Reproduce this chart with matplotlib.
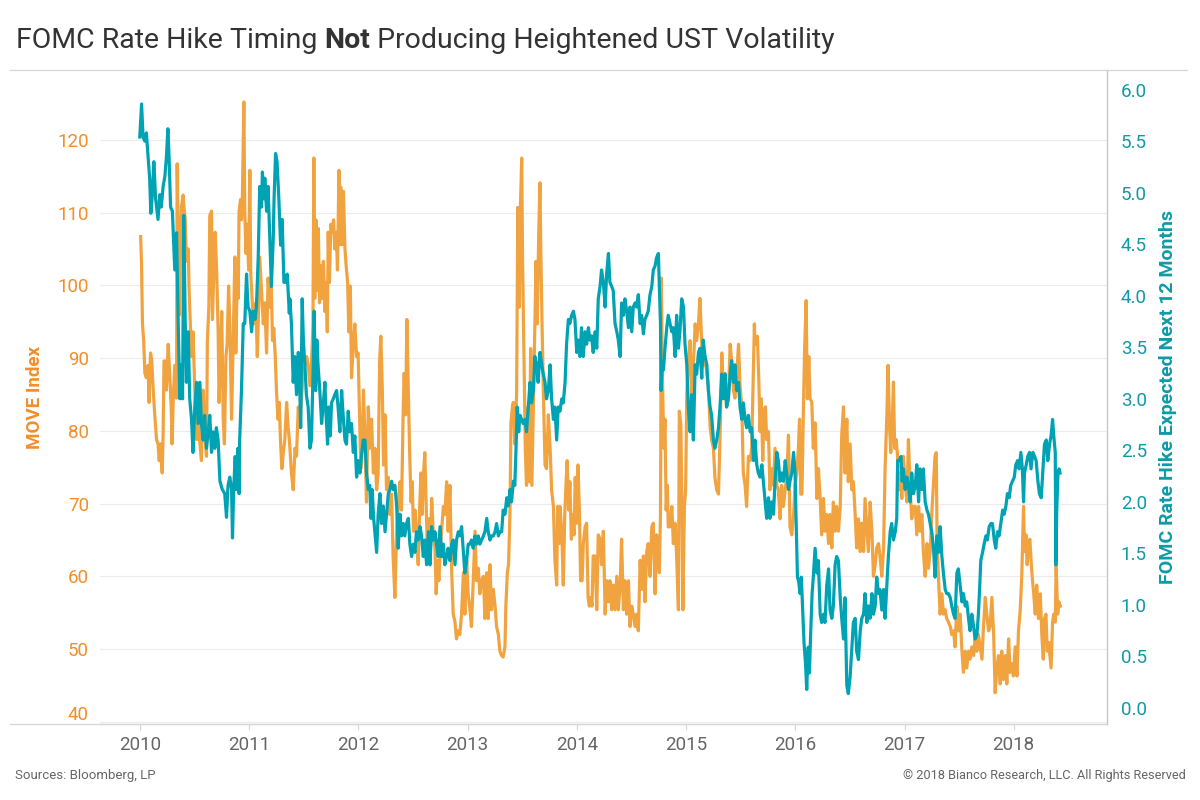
import numpy as np
import pandas as pd
import matplotlib
matplotlib.use('Agg')
import matplotlib.pyplot as plt
import matplotlib.dates as mdates
from matplotlib import transforms
from matplotlib.lines import Line2D

# (days after 2010-01-01, value)
move_data = [
    (3, 106.7), (6, 102.7), (9, 94.7), (13, 92.4), (17, 87.9), (22, 87.3), (28, 89), (31, 83.9), (36, 90.7),
    (40, 89.6), (45, 85.6), (50, 82.2), (56, 78.8), (61, 78.2), (65, 75.9), (69, 78.2), (75, 74.2), (78, 79.4),
    (81, 89.6), (86, 89.6), (89, 85.6), (95, 91.9), (100, 87.9), (105, 83.3), (108, 78.2), (112, 84.5), (117, 89),
    (123, 84.5), (125, 116.7), (128, 107.3), (132, 95.9), (136, 105), (139, 110.7), (145, 112.4), (148, 110.7),
    (152, 109), (156, 103.3), (162, 105), (165, 99.3), (170, 93.6), (174, 90.2), (178, 93.6), (184, 85.6),
    (190, 78.8), (195, 81.1), (201, 78.2), (206, 75.9), (212, 85.6), (217, 79.9), (223, 76.5), (226, 92.4),
    (231, 97), (234, 109.6), (240, 110.2), (243, 95.3), (248, 102.7), (252, 107.3), (257, 102.1), (262, 93.6),
    (265, 83.9), (270, 90.2), (274, 96.4), (279, 81.6), (283, 78.2), (288, 90.2), (292, 91.9), (297, 99.9),
    (301, 94.7), (307, 81.6), (312, 91.9), (318, 103.9), (321, 90.7), (326, 101.6), (329, 98.2), (332, 110.2),
    (337, 111.8), (340, 109), (343, 111.8), (348, 125.2), (351, 110.2), (355, 104.4), (359, 108.4), (364, 102.1),
    (368, 115.8), (371, 101.6), (377, 97), (381, 94.7), (388, 97.6), (393, 90.2), (397, 96.4), (401, 103.9),
    (407, 99.3), (413, 94.7), (418, 97.6), (424, 90.7), (429, 101), (435, 97), (439, 101), (444, 92.4),
    (448, 94.1), (453, 90.2), (457, 85.6), (462, 81.6), (466, 83.9), (471, 78.2), (475, 74.8), (480, 77),
    (485, 78.8), (491, 83.9), (496, 80.5), (500, 78.8),
    (502, 77.6), (507, 74.2), (513, 71.9), (519, 77.6), (524, 76.5), (530, 83.3), (535, 80.5), (541, 84.5),
    (546, 87.9), (552, 89), (558, 90.2), (563, 89), (569, 86.2), (574, 89), (579, 94.7), (582, 117.5),
    (585, 98.2), (589, 109), (592, 99.3), (597, 107.8), (601, 97.6), (605, 102.7), (610, 98.2), (614, 103.3),
    (619, 96.4), (623, 100.4), (627, 93.6), (630, 107.3), (634, 100.4), (639, 108.4), (643, 107.3), (648, 109),
    (652, 105), (657, 107.3), (661, 102.1), (666, 115.8), (669, 105.6), (672, 113.5), (677, 105.6), (681, 112.9),
    (686, 105), (690, 102.7), (695, 100.4), (699, 93.6), (704, 99.9), (708, 87.3), (714, 91.9), (719, 94.7),
    (725, 90.2), (730, 90.7), (735, 81.6), (739, 74.8), (744, 78.8), (748, 85.6), (753, 78.8), (758, 70.2),
    (764, 83.3), (769, 77.6), (775, 81.6), (781, 74.2), (786, 77.6), (792, 71.9), (797, 74.2), (802, 89.6),
    (806, 93), (811, 85.6), (815, 75.3), (820, 82.2), (825, 71.9), (831, 73.6), (836, 68.5), (842, 71.3),
    (847, 62.8), (853, 57.1), (859, 66.2), (864, 69.6), (870, 73), (875, 69.1), (881, 83.3), (884, 87.9),
    (889, 82.2), (893, 95.3), (898, 85.6), (902, 77.6), (907, 70.2), (911, 73), (915, 66.2), (920, 69.1),
    (925, 66.2), (931, 61.6), (936, 69.6), (940, 74.2), (944, 68.5), (949, 74.2), (953, 77), (958, 69.1),
    (962, 63.4), (967, 67.9), (971, 61.6), (976, 70.7), (981, 66.2), (987, 63.9), (991, 57.6), (996, 62.2),
    (1000, 59.4), (1005, 63.9), (1009, 66.2), (1015, 69.6), (1020, 68.5),
    (1026, 73), (1031, 66.2), (1037, 72.5), (1043, 60.5), (1048, 54.8), (1054, 53.7), (1059, 51.4), (1065, 52.5),
    (1070, 52), (1076, 54.8), (1082, 60.5), (1087, 54.8), (1093, 62.2), (1098, 57.6), (1104, 55.4), (1109, 53.1),
    (1115, 59.4), (1121, 66.2), (1126, 59.4), (1132, 61.1), (1137, 57.6), (1143, 59.4), (1149, 60), (1154, 54.2),
    (1160, 60.5), (1165, 54.2), (1171, 61.6), (1176, 55.4), (1182, 58.2), (1188, 55.9), (1193, 53.1), (1199, 52),
    (1204, 49.7), (1210, 49.1), (1215, 48.9), (1221, 50.3), (1224, 55.9), (1229, 60.5), (1233, 61.6), (1238, 69.1),
    (1241, 81.1), (1246, 83.3), (1249, 83.9), (1254, 78.2), (1260, 85), (1264, 110.7), (1269, 97), (1273, 111.2),
    (1277, 117.5), (1280, 103.3), (1285, 89), (1289, 77.6), (1293, 72.5), (1298, 83.3), (1302, 73), (1307, 91.3),
    (1311, 72.5), (1316, 83.3), (1320, 91.9), (1325, 103.3), (1329, 94.7), (1334, 107.3), (1338, 114.1),
    (1341, 104.4), (1345, 94.7), (1349, 86.2), (1355, 75.3), (1360, 74.8), (1366, 82.2), (1372, 77.6),
    (1377, 71.9), (1383, 69.6), (1388, 62.2), (1394, 58.8), (1397, 69.6), (1402, 64.5), (1405, 69.6), (1411, 66.2),
    (1416, 58.8), (1421, 68.5), (1425, 72.5), (1429, 75.9), (1434, 69.1), (1438, 73), (1443, 65.1), (1447, 68.5),
    (1452, 65.7), (1456, 73.6), (1461, 67.3), (1465, 75.3), (1470, 69.1), (1474, 59.4), (1479, 59.4), (1483, 64.5),
    (1489, 66.8), (1494, 67.3), (1499, 57.1), (1503, 55.9), (1508, 57.1), (1512, 55.9), (1516, 62.8), (1522, 62.8),
    (1528, 55.4), (1533, 65.7), (1539, 65.1),
    (1544, 61.6), (1550, 66.2), (1556, 54.8), (1561, 59.4), (1567, 56.5), (1572, 59.4), (1578, 55.4), (1583, 58.8),
    (1589, 55.4), (1595, 60), (1600, 55.4), (1606, 58.8), (1611, 65.1), (1617, 55.4), (1622, 59.4), (1628, 54.8),
    (1634, 59.4), (1639, 53.1), (1645, 55.9), (1650, 54.8), (1656, 53.1), (1661, 54.8), (1667, 52.5), (1673, 62.2),
    (1678, 58.2), (1684, 62.8), (1689, 56.5), (1695, 63.4), (1700, 64.5), (1706, 60), (1712, 66.8), (1717, 67.3),
    (1723, 57.6), (1728, 65.7), (1734, 64.5), (1737, 60.5), (1741, 68.5), (1744, 101), (1747, 89), (1752, 77.6),
    (1756, 81.6), (1760, 69.1), (1764, 72.5), (1767, 66.8), (1773, 66.8), (1779, 69.6), (1784, 64.5), (1790, 67.3),
    (1795, 62.8), (1801, 55.4), (1804, 82.7), (1809, 80.9), (1812, 71.9), (1816, 55.4), (1821, 69.6), (1825, 71.9),
    (1829, 85), (1834, 89.6), (1840, 92.4), (1845, 84.5), (1851, 89), (1857, 94.7), (1862, 92.4), (1868, 94.7),
    (1873, 98.2), (1879, 91.9), (1884, 89), (1890, 90.2), (1896, 87.9), (1901, 86.2), (1907, 80.5), (1912, 78.8),
    (1918, 77.6), (1923, 73.6), (1929, 71.9), (1935, 71.3), (1940, 78.8), (1946, 90.7), (1951, 85.6), (1957, 87.9),
    (1962, 83.3), (1968, 84.5), (1974, 91.9), (1979, 89.6), (1985, 85.6), (1990, 84.5), (1996, 87.9), (2002, 91.9),
    (2007, 86.2), (2013, 83.3), (2018, 74.2), (2024, 72.5), (2029, 69.6), (2035, 76.5), (2041, 75.9), (2046, 77.6),
    (2052, 89), (2055, 94.7), (2057, 91.9),
    (2065, 93), (2070, 86.7), (2074, 79.9), (2078, 84.4), (2083, 75.9), (2087, 82.7), (2092, 83.3), (2096, 78.8),
    (2102, 79.9), (2107, 71.9), (2113, 74.8), (2119, 72.5), (2124, 77.6), (2130, 72.5), (2135, 71.9), (2141, 67.9),
    (2146, 72.5), (2152, 69.6), (2158, 71.9), (2163, 73.6), (2169, 79.4), (2174, 66.8), (2180, 65.7), (2186, 68.5),
    (2191, 72.5), (2197, 74.2), (2202, 77.6), (2206, 81.6), (2210, 71.3), (2214, 71.3), (2219, 83.3), (2223, 91.3),
    (2228, 97.9), (2232, 84.4), (2237, 90.2), (2241, 84.5), (2247, 83.9), (2252, 77.6), (2258, 81.1), (2264, 70.7),
    (2269, 74.8), (2275, 70.7), (2280, 65.7), (2286, 70.7), (2291, 66.2), (2297, 68.5), (2303, 64.5), (2308, 68.5),
    (2314, 63.9), (2319, 70.2), (2325, 66.2), (2330, 69.6), (2336, 66.2), (2342, 69.6), (2347, 79.4), (2353, 83.3),
    (2358, 74.2), (2364, 81.6), (2369, 73), (2375, 78.2), (2381, 71.9), (2386, 73), (2392, 68.5), (2397, 63.9),
    (2403, 67.9), (2409, 63.4), (2414, 67.3), (2420, 63.4), (2425, 70.7), (2431, 66.8), (2436, 63.4), (2442, 70.2),
    (2448, 66.2), (2453, 60), (2459, 61.6), (2464, 63.9), (2470, 64.5), (2475, 62.8), (2481, 60), (2487, 63.9),
    (2492, 74.8), (2498, 82.2), (2502, 89), (2507, 80.5), (2511, 77), (2516, 81.1), (2520, 86.7), (2524, 77.6),
    (2529, 78.8), (2533, 77), (2538, 71.9), (2542, 74.2), (2548, 70.7), (2553, 76.5), (2559, 73), (2565, 70.2),
    (2570, 78.8), (2576, 71.9),
    (2581, 67.9), (2587, 69.6), (2593, 69.6), (2598, 65.7), (2604, 69.6), (2609, 66.2), (2615, 68.5), (2620, 63.4),
    (2626, 60), (2632, 64.5), (2637, 61.1), (2643, 63.4), (2648, 68.5), (2654, 73), (2659, 76.5), (2663, 77),
    (2666, 64.5), (2671, 59.4), (2676, 54.8), (2682, 57.6), (2687, 54.8), (2693, 55.4), (2698, 54.2), (2704, 53.7),
    (2710, 53.1), (2715, 52), (2721, 52.5), (2726, 50.3), (2732, 55.9), (2737, 52.5), (2743, 54.8), (2749, 49.7),
    (2754, 46.8), (2760, 49.7), (2765, 47.4), (2771, 49.7), (2776, 48.6), (2782, 50.3), (2788, 49.1), (2793, 51.4),
    (2799, 49.7), (2804, 52), (2810, 50.3), (2816, 48.6), (2821, 53.1), (2827, 57.1), (2832, 54.8), (2838, 52.5),
    (2843, 53.1), (2849, 57.1), (2855, 52), (2860, 44), (2866, 47.4), (2871, 49.1), (2877, 45.2), (2882, 49.7),
    (2888, 45.8), (2894, 49.1), (2899, 45.2), (2905, 51.4), (2910, 46.8), (2916, 48), (2921, 46.3), (2927, 50.3),
    (2933, 46.3), (2938, 52.5), (2944, 55.4), (2949, 60), (2955, 69.6), (2958, 63.4), (2963, 65.7), (2967, 61.6),
    (2972, 64.5), (2976, 65.1), (2981, 61.6), (2985, 59.4), (2989, 57.6), (2994, 54.8), (2999, 58.8), (3005, 54.2),
    (3011, 57.6), (3016, 52), (3021, 48.6), (3025, 54.2), (3030, 54.8), (3034, 49.7), (3039, 50.9), (3043, 49.1),
    (3047, 47.4), (3052, 53.7), (3056, 54.8), (3061, 53.7), (3064, 61.6), (3069, 54.8), (3073, 56.5), (3078, 55.9),
]

fomc_data = [
    (0, 5.54), (6, 5.86), (11, 5.54), (17, 5.5), (22, 5.58), (28, 5.34), (33, 5.14), (37, 4.8), (42, 4.98),
    (47, 5.3), (53, 4.94), (61, 4.74), (67, 4.98), (72, 4.86), (78, 5.06), (84, 5.16), (89, 5.34), (94, 5.62),
    (98, 5.34), (103, 4.86), (109, 4.82), (114, 4.45), (117, 4.25), (123, 4.61), (128, 3.81), (134, 3.0),
    (139, 3.33), (143, 3.0), (147, 4.78), (152, 3.73), (156, 3.16), (162, 3.65), (167, 3.0), (173, 2.8),
    (178, 2.48), (184, 2.92), (190, 3.16), (195, 2.76), (201, 3.16), (206, 2.76), (212, 2.6), (217, 2.84),
    (223, 2.52), (229, 2.68), (234, 2.84), (240, 2.48), (245, 2.68), (251, 2.52), (256, 2.72), (262, 2.6),
    (268, 2.2), (276, 2.12), (284, 2.08), (290, 1.85), (295, 2.16), (301, 2.24), (307, 2.12), (310, 1.65),
    (314, 2.12), (319, 2.44), (323, 2.12), (328, 2.52), (332, 2.08), (334, 2.6), (340, 3.08), (346, 3.73),
    (351, 3.73), (357, 4.21), (362, 3.89), (368, 3.85), (374, 3.65), (379, 3.85), (385, 3.77), (390, 3.89),
    (396, 4.37), (401, 5.06), (407, 4.86), (410, 5.2), (415, 4.94), (418, 5.14), (424, 4.82), (429, 5.06),
    (435, 4.53), (440, 4.09), (446, 4.53), (449, 4.94), (454, 5.38), (459, 5.3), (465, 4.94), (471, 4.49),
    (476, 4.74), (482, 4.13), (487, 4.13), (493, 4.21), (500, 3.83),
    (502, 3.97), (507, 3.73), (513, 3.16), (518, 3.41), (524, 3.04), (530, 3.45), (535, 3.08), (538, 2.72),
    (543, 3.97), (547, 3.57), (552, 3.33), (557, 3.04), (563, 2.92), (569, 2.52), (574, 2.6), (580, 3.33),
    (583, 3.85), (588, 3.08), (592, 3.57), (596, 3.33), (602, 3.08), (608, 2.76), (613, 2.92), (619, 3.16),
    (623, 2.84), (628, 2.56), (632, 2.92), (637, 2.64), (641, 2.96), (647, 3.0), (652, 3.04), (658, 3.08),
    (663, 2.92), (669, 2.68), (675, 3.08), (680, 2.84), (686, 2.6), (691, 2.56), (697, 2.88), (702, 2.68),
    (708, 2.76), (714, 2.48), (719, 2.64), (725, 2.24), (730, 2.4), (736, 2.28), (741, 2.44), (747, 2.6),
    (753, 2.6), (758, 2.28), (764, 2.12), (769, 2.16), (773, 1.84), (777, 2.12), (782, 1.84), (786, 1.71),
    (792, 1.51), (797, 1.88), (803, 2.08), (808, 1.79), (814, 1.96), (820, 1.71), (825, 1.88), (831, 2.08),
    (836, 2.12), (842, 2.2), (847, 2.12), (853, 2.16), (859, 1.96), (864, 1.55), (870, 1.88), (875, 1.67),
    (881, 1.79), (886, 1.67), (892, 1.79), (898, 1.84), (903, 1.59), (909, 1.47), (914, 1.59), (920, 1.51),
    (925, 1.71), (931, 1.63), (937, 1.76), (942, 1.67), (948, 1.47), (953, 1.63), (959, 1.39), (965, 1.71),
    (970, 1.39), (976, 1.76), (981, 1.63), (987, 1.71), (992, 1.59), (998, 1.47), (1004, 1.76), (1009, 1.47),
    (1015, 1.59), (1020, 1.39),
    (1026, 1.47), (1031, 1.55), (1037, 1.43), (1043, 1.59), (1048, 1.63), (1054, 1.39), (1059, 1.63), (1065, 1.71),
    (1070, 1.67), (1076, 1.76), (1082, 1.51), (1087, 1.31), (1093, 1.43), (1098, 1.59), (1104, 1.59), (1109, 1.63),
    (1115, 1.55), (1121, 1.67), (1126, 1.59), (1132, 1.67), (1137, 1.59), (1143, 1.63), (1149, 1.67), (1154, 1.71),
    (1160, 1.84), (1165, 1.71), (1171, 1.63), (1176, 1.67), (1182, 1.67), (1188, 1.71), (1193, 1.79), (1199, 1.67),
    (1204, 1.71), (1210, 1.71), (1215, 1.92), (1221, 1.88), (1227, 2.04), (1232, 1.96), (1238, 2.12), (1243, 2.0),
    (1249, 2.2), (1254, 2.16), (1258, 2.52), (1262, 2.92), (1267, 2.68), (1271, 2.84), (1277, 2.8), (1282, 2.76),
    (1288, 2.8), (1293, 2.68), (1299, 2.92), (1305, 3.16), (1310, 2.96), (1316, 3.08), (1321, 3.41), (1327, 3.33),
    (1332, 3.16), (1338, 3.45), (1344, 3.33), (1349, 3.24), (1355, 3.16), (1360, 3.0), (1366, 3.08), (1372, 3.33),
    (1377, 3.0), (1383, 2.8), (1388, 2.92), (1394, 2.6), (1399, 2.92), (1405, 2.88), (1411, 3.0), (1416, 2.96),
    (1422, 3.16), (1427, 3.53), (1433, 3.77), (1438, 3.73), (1444, 3.81), (1450, 3.85), (1455, 3.77), (1461, 3.45),
    (1466, 3.57), (1472, 3.41), (1477, 3.69), (1483, 3.41), (1489, 3.65), (1494, 3.53), (1500, 3.69), (1505, 3.57),
    (1511, 3.61), (1516, 3.45), (1522, 3.65), (1528, 3.49), (1533, 3.97), (1539, 4.09),
    (1544, 4.25), (1550, 4.13), (1556, 3.89), (1561, 4.21), (1567, 4.41), (1572, 4.13), (1578, 4.09), (1583, 4.05),
    (1589, 3.73), (1595, 3.65), (1600, 3.57), (1606, 3.41), (1611, 3.93), (1617, 3.81), (1622, 3.97), (1628, 3.85),
    (1634, 3.69), (1639, 3.89), (1645, 3.65), (1650, 3.89), (1656, 3.93), (1661, 3.89), (1667, 4.01), (1673, 3.73),
    (1678, 3.81), (1684, 3.63), (1689, 3.77), (1695, 3.81), (1700, 3.85), (1706, 4.01), (1712, 4.09), (1717, 4.25),
    (1723, 4.29), (1728, 4.37), (1734, 4.41), (1737, 4.13), (1741, 3.73), (1743, 3.08), (1747, 3.33), (1751, 3.28),
    (1756, 3.49), (1762, 3.69), (1767, 3.81), (1773, 3.73), (1779, 3.65), (1784, 3.69), (1790, 3.41), (1795, 3.81),
    (1801, 3.49), (1806, 3.65), (1812, 3.97), (1818, 3.89), (1823, 3.53), (1829, 3.33), (1834, 2.92), (1840, 2.68),
    (1845, 3.04), (1851, 2.6), (1857, 3.33), (1862, 3.24), (1868, 3.45), (1873, 3.49), (1879, 3.2), (1884, 3.57),
    (1890, 3.41), (1896, 3.33), (1901, 3.08), (1907, 2.92), (1912, 2.84), (1918, 2.6), (1923, 2.52), (1929, 2.6),
    (1935, 2.72), (1940, 2.92), (1946, 3.24), (1951, 3.0), (1957, 3.24), (1962, 2.92), (1968, 3.0), (1974, 3.24),
    (1979, 3.37), (1985, 3.16), (1990, 3.33), (1996, 3.08), (2002, 3.16), (2007, 2.92), (2013, 2.8), (2018, 2.96),
    (2024, 2.8), (2029, 2.72), (2035, 2.84), (2041, 2.68), (2046, 2.72), (2052, 2.4), (2057, 2.6),
    (2063, 2.36), (2068, 2.28), (2074, 2.24), (2080, 2.36), (2085, 2.2), (2091, 2.0), (2096, 1.84), (2102, 2.04),
    (2107, 1.84), (2113, 2.0), (2119, 1.88), (2124, 2.2), (2130, 2.48), (2135, 2.4), (2141, 2.2), (2146, 2.28),
    (2152, 2.2), (2158, 2.4), (2163, 2.28), (2169, 2.12), (2174, 2.2), (2180, 2.28), (2186, 2.48), (2191, 2.28),
    (2194, 1.88), (2199, 1.27), (2203, 1.23), (2208, 1.11), (2212, 1.27), (2217, 0.91), (2221, 0.63), (2226, 0.43),
    (2230, 0.18), (2235, 0.59), (2239, 0.34), (2243, 0.71), (2248, 1.11), (2252, 1.27), (2258, 1.55), (2264, 1.31),
    (2269, 1.43), (2275, 0.91), (2280, 0.83), (2286, 0.91), (2291, 0.83), (2297, 1.19), (2303, 1.35), (2308, 0.95),
    (2314, 0.87), (2319, 0.99), (2325, 1.39), (2330, 1.47), (2336, 1.43), (2342, 1.07), (2347, 0.87), (2353, 0.67),
    (2358, 1.07), (2364, 0.22), (2369, 0.14), (2375, 0.3), (2381, 0.59), (2386, 0.83), (2392, 0.87), (2397, 0.55),
    (2403, 0.47), (2409, 0.75), (2414, 0.87), (2420, 0.91), (2425, 1.11), (2431, 0.83), (2436, 0.99), (2442, 0.87),
    (2448, 1.11), (2453, 0.91), (2459, 0.99), (2464, 1.27), (2470, 1.11), (2475, 1.15), (2481, 0.95), (2487, 1.15),
    (2492, 0.87), (2498, 1.19), (2503, 1.47), (2509, 1.71), (2514, 1.79), (2520, 1.63), (2526, 1.71), (2531, 1.84),
    (2534, 2.4), (2539, 2.4), (2545, 2.44), (2549, 2.2), (2553, 2.32), (2559, 2.12), (2565, 2.24), (2570, 2.16),
    (2576, 2.0),
    (2581, 2.28), (2587, 2.08), (2593, 2.16), (2598, 2.36), (2604, 2.0), (2609, 2.32), (2615, 2.12), (2620, 2.32),
    (2626, 2.0), (2632, 1.92), (2637, 1.88), (2643, 1.79), (2648, 1.71), (2654, 1.55), (2659, 1.27), (2665, 1.67),
    (2671, 1.51), (2676, 1.76), (2682, 1.47), (2687, 1.31), (2693, 1.15), (2698, 1.11), (2704, 1.11), (2710, 1.07),
    (2715, 0.99), (2721, 0.91), (2726, 0.87), (2732, 1.31), (2737, 1.35), (2743, 1.19), (2749, 1.03), (2754, 1.11),
    (2760, 0.99), (2765, 1.03), (2771, 0.87), (2776, 0.75), (2782, 0.91), (2788, 0.79), (2793, 0.67), (2799, 0.71),
    (2804, 0.91), (2808, 1.15), (2812, 1.43), (2818, 1.51), (2823, 1.59), (2829, 1.67), (2834, 1.63), (2840, 1.76),
    (2846, 1.79), (2851, 1.79), (2857, 1.63), (2862, 1.55), (2868, 1.71), (2873, 1.67), (2879, 1.79), (2885, 1.92),
    (2890, 1.88), (2896, 1.96), (2901, 2.08), (2907, 2.04), (2912, 2.16), (2918, 2.2), (2924, 2.24), (2929, 2.36),
    (2935, 2.4), (2940, 2.32), (2946, 2.48), (2951, 2.32), (2955, 2.0), (2958, 2.28), (2964, 2.36), (2969, 2.44),
    (2975, 2.48), (2980, 2.32), (2986, 2.48), (2992, 2.44), (2997, 2.4), (3003, 2.2), (3008, 2.08), (3014, 2.04),
    (3019, 2.28), (3025, 2.56), (3031, 2.6), (3036, 2.4), (3042, 2.56), (3047, 2.64), (3052, 2.8), (3056, 2.64),
    (3061, 2.48), (3063, 1.39), (3066, 1.92), (3070, 2.28), (3074, 2.32), (3077, 2.28),
]

years = [2010, 2011, 2012, 2013, 2014, 2015, 2016, 2017, 2018]
move_ticks = [40, 50, 60, 70, 80, 90, 100, 110, 120]
fomc_ticks = [0.0, 0.5, 1.0, 1.5, 2.0, 2.5, 3.0, 3.5, 4.0, 4.5, 5.0, 5.5, 6.0]

ORANGE = '#F1A340'
TEAL = '#00A3B4'
ORANGE_TXT = '#F28E2B'
TEAL_TXT = '#0E9AA7'
FRAME = '#d6d6d6'

start = pd.Timestamp('2010-01-01')
move_days, move_vals = zip(*move_data)
fomc_days, fomc_vals = zip(*fomc_data)
move_dates = start + pd.to_timedelta(np.array(move_days), unit='D')
fomc_dates = start + pd.to_timedelta(np.array(fomc_days), unit='D')

plt.rcParams['font.family'] = ['Roboto', 'DejaVu Sans']

fig = plt.figure(figsize=(12, 8), dpi=100)
ax = fig.add_axes([100 / 1200, 1 - 724 / 800, (1107 - 100) / 1200, 654 / 800])
ax2 = ax.twinx()

ax.plot(move_dates, move_vals, color=ORANGE, lw=2.3, solid_joinstyle='round')
ax2.plot(fomc_dates, fomc_vals, color=TEAL, lw=2.3, solid_joinstyle='round')

ax.set_xlim(pd.Timestamp('2009-08-21'), pd.Timestamp('2018-11-09'))
ax.set_ylim(39.7, 129.6)
ax2.set_ylim(-0.155, 6.19)

ax.set_xticks([pd.Timestamp(f'{y}-01-01') for y in years])
ax.xaxis.set_major_formatter(mdates.DateFormatter('%Y'))
ax.set_yticks(move_ticks)
ax2.set_yticks(fomc_ticks)
ax2.set_yticklabels([f'{v:.1f}' for v in fomc_ticks])

ax.yaxis.grid(True, color='#ececec', lw=0.8)
ax.set_axisbelow(True)

for a in (ax, ax2):
    for s in a.spines.values():
        s.set_color(FRAME)
        s.set_linewidth(0.9)
    a.spines['left'].set_visible(False)
    a.spines['top'].set_visible(False)
ax2.spines['right'].set_color('#c8c8c8')

ax.tick_params(axis='x', length=4, color=FRAME, labelsize=13.5, labelcolor='#666666', pad=5)
ax.tick_params(axis='y', length=0, labelsize=13.5, labelcolor=ORANGE_TXT, pad=8)
ax2.tick_params(axis='y', length=0, labelsize=13.5, labelcolor=TEAL_TXT, pad=10)

# Tableau nudges the bottom edge label up inside the pane
for lbl in ax.get_yticklabels():
    if lbl.get_text() == '40':
        lbl.set_transform(lbl.get_transform() + transforms.ScaledTranslation(0, 9 / 100, fig.dpi_scale_trans))

# worksheet frame lines: full-width line under the title, axis line under the left header
fig.add_artist(Line2D([10 / 1200, 1187 / 1200], [1 - 70 / 800, 1 - 70 / 800], color=FRAME, lw=0.9))
fig.add_artist(Line2D([10 / 1200, 100 / 1200], [1 - 724 / 800, 1 - 724 / 800], color=FRAME, lw=0.9))

fig.text(35 / 1200, 1 - 397 / 800, 'MOVE Index', rotation=90, ha='center', va='center',
         fontsize=13.5, weight='bold', color=ORANGE_TXT)
fig.text(1168 / 1200, 1 - 397 / 800, 'FOMC Rate Hike Expected Next 12 Months', rotation=90,
         ha='center', va='center', fontsize=14, weight='bold', color=TEAL_TXT)

# title with a bold word in the middle
fig.canvas.draw()
renderer = fig.canvas.get_renderer()
x0 = 16
pieces = [('FOMC Rate Hike Timing ', 'normal'), ('Not', 'bold'),
          (' Producing Heightened UST Volatility', 'normal')]
for txt, w in pieces:
    t = fig.text(x0 / 1200, 1 - 40 / 800, txt, fontsize=20.5, weight=w, color='#333333',
                 ha='left', va='center')
    x0 = t.get_window_extent(renderer).x1

fig.text(15 / 1200, 1 - 776 / 800, 'Sources: Bloomberg, LP', fontsize=9.5, color='#666666',
         ha='left', va='center')
fig.text(1186 / 1200, 1 - 776 / 800, '\u00a9 2018 Bianco Research, LLC. All Rights Reserved', fontsize=9.2,
         color='#666666', ha='right', va='center')

fig.savefig('out.png', dpi=100)
